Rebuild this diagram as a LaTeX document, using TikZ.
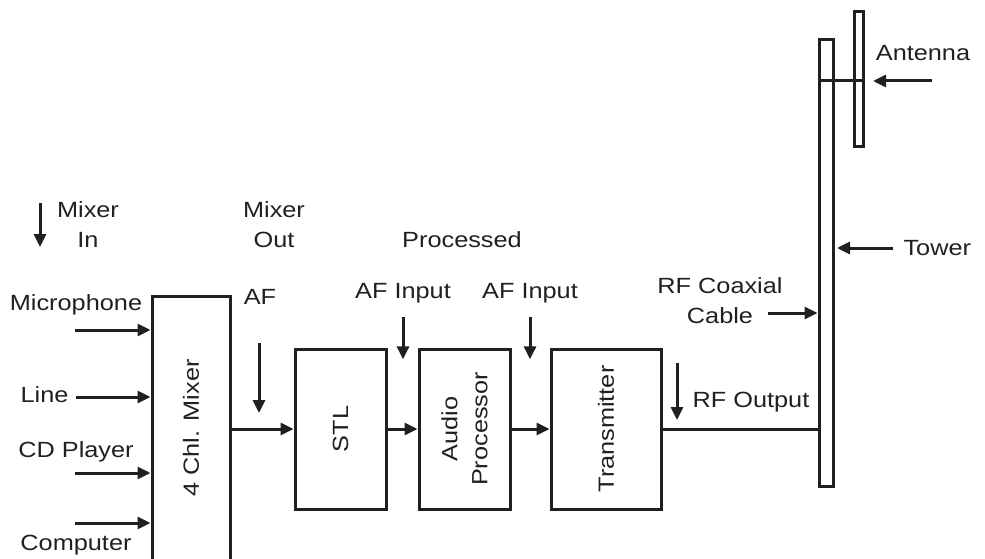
\documentclass[tikz,border=0pt]{standalone}
\usepackage{fontspec}
\setmainfont{Liberation Sans}[FakeStretch=1.15]
\usetikzlibrary{arrows.meta}
\definecolor{ink}{HTML}{231F20}
\begin{document}
\fontsize{22}{30}\selectfont
\begin{tikzpicture}[x=1pt, y=-1pt, line width=3pt, draw=ink, text=ink,
    >={Triangle[length=13pt,width=12pt]},
    box/.style={draw, rectangle, inner sep=0pt},
    vtext/.style={rotate=90, align=center},
    lbl/.style={align=center, inner sep=0pt}]
    \useasboundingbox (0,0) rectangle (985,559);

    % Blocks
    \node[box, minimum width=78pt, minimum height=268pt] (mixer) at (191,430) {};
    \node[vtext] at (191,428) {4 Chl. Mixer};
    \node[box, minimum width=91pt, minimum height=160pt] (stl) at (340.5,429) {};
    \node[vtext] at (stl) {STL};
    \node[box, minimum width=91pt, minimum height=160pt] (proc) at (464.5,429) {};
    \node[vtext] at (proc) {Audio\\Processor};
    \node[box, minimum width=110pt, minimum height=160pt] (tx) at (606,429) {};
    \node[vtext] at (tx) {Transmitter};

    % Tower and antenna
    \node[box, minimum width=14pt, minimum height=446pt] (tower) at (826,263) {};
    \node[box, minimum width=9pt, minimum height=135pt] (ant) at (858.5,79.5) {};
    \draw (tower.west |- 0,81) -- (ant.east |- 0,81);

    % Signal path
    \draw[->] (mixer.east |- stl.west) -- (stl.west);
    \draw[->] (stl.east) -- (proc.west);
    \draw[->] (proc.east) -- (tx.west);
    \draw (tx.east) -- (tx.east -| tower.west);

    % Mixer inputs
    \node[lbl] (mic) at (76,305) {Microphone};
    \node[lbl, anchor=east] (line) at (70,395) {Line};
    \node[lbl] (cd) at (76,452) {CD Player};
    \node[lbl] (comp) at (76,545) {Computer};
    \coordinate (micin) at (75,330);
    \coordinate (linein) at (76,397);
    \coordinate (cdin) at (75,473);
    \coordinate (compin) at (75,523);
    \foreach \c in {micin, linein, cdin, compin}
        \draw[->] (\c) -- (\c -| mixer.west);

    % Labels with pointers
    \node[lbl] (mixin) at (88,225) {Mixer\\In};
    \coordinate (mixintop) at (40,203);
    \draw[->] (mixintop) -- ++(0,44);
    \node[lbl] (mixout) at (274,225) {Mixer\\Out};
    \node[lbl] (af) at (260,297) {AF};
    \coordinate (aftop) at (259,343);
    \draw[->] (aftop) -- ++(0,70);
    \node[lbl] (processed) at (462,240) {Processed};
    \node[lbl] (afin1) at (403,293) {AF Input};
    \node[lbl] (afin2) at (530,293) {AF Input};
    \draw[->] (afin1.south) ++(0,13) -- ++(0,42);
    \draw[->] (afin2.south) ++(0,13) -- ++(0,42);
    \node[lbl] (rfout) at (751,402) {RF Output};
    \coordinate (rftop) at (677,363);
    \draw[->] (rftop) -- ++(0,57);
    \node[lbl] (coax) at (720,301) {RF Coaxial\\Cable};
    \coordinate (coaxtail) at (768,313);
    \draw[->] (coaxtail) -- (coaxtail -| tower.west);
    \node[lbl, anchor=west] (towerlbl) at (902,248) {Tower};
    \draw[->] (towerlbl.west) ++(-9,0) -- ++(-56,0);
    \node[lbl] (antlbl) at (923,53) {Antenna};
    \coordinate (anttail) at (932,81);
    \draw[->] (anttail) -- ++(-59,0);
\end{tikzpicture}
\end{document}
